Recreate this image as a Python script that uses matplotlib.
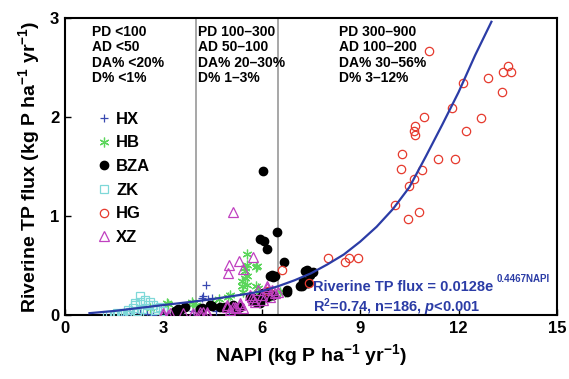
import matplotlib
matplotlib.use("Agg")
import matplotlib.pyplot as plt

plt.rcParams['font.family'] = ['Liberation Sans', 'DejaVu Sans']
plt.rcParams['font.weight'] = 'bold'
plt.rcParams['mathtext.fontset'] = 'custom'
plt.rcParams['mathtext.rm'] = 'Liberation Sans:bold'
plt.rcParams['mathtext.bf'] = 'Liberation Sans:bold'
plt.rcParams['mathtext.it'] = 'Liberation Sans:italic:bold'
plt.rcParams['mathtext.default'] = 'rm'

# group data, NAPI (x) vs riverine TP flux (y)
hx_x = [4.30, 4.17, 4.22, 4.35, 4.47, 1.8, 2.0, 2.3, 2.5, 2.7, 3.1, 3.6, 3.9, 4.6, 5.0]
hx_y = [0.30, 0.17, 0.19, 0.16, 0.17, 0.0, 0.01, 0.02, 0.01, 0.0, 0.02, 0.05, 0.04, 0.04, 0.03]

hb_x = [3.10, 3.15, 3.6, 3.86, 3.89, 4.01, 4.5, 4.98, 5.03, 5.39, 5.39, 5.44, 5.49, 5.49,
        5.49, 5.54, 5.54, 5.54, 5.54, 5.84, 5.86, 5.84, 5.89, 5.95, 6.15, 6.55, 6.71, 2.6, 4.7]
hb_y = [0.12, 0.11, 0.08, 0.13, 0.11, 0.10, 0.12, 0.185, 0.20, 0.34, 0.29, 0.235, 0.47, 0.44,
        0.37, 0.62, 0.505, 0.39, 0.30, 0.48, 0.49, 0.29, 0.27, 0.20, 0.17, 0.235, 0.235, 0.07, 0.16]

bza_x = [3.35, 3.45, 3.51, 3.66, 3.40, 4.12, 4.17, 4.42, 4.47, 4.73, 4.88, 5.13, 5.23, 5.34,
         5.64, 5.69, 5.74, 5.79, 5.84, 5.95, 5.95, 6.05, 6.15, 6.20, 6.30, 6.35, 6.76, 6.76,
         6.25, 6.35, 6.30, 6.40, 6.68, 6.15, 5.95, 6.07, 6.45, 6.03, 7.16, 7.22, 7.27, 7.32,
         7.37, 7.47, 7.42, 7.57, 7.37]
bza_y = [0.04, 0.06, 0.05, 0.08, 0.03, 0.065, 0.07, 0.10, 0.094, 0.084, 0.078, 0.10, 0.07, 0.085,
         0.185, 0.15, 0.17, 0.15, 0.134, 0.17, 0.118, 0.22, 0.185, 0.235, 0.20, 0.20, 0.235, 0.25,
         0.39, 0.38, 0.40, 0.39, 0.53, 0.667, 0.765, 0.75, 0.835, 1.455, 0.29, 0.29, 0.34, 0.44,
         0.45, 0.40, 0.32, 0.43, 0.32]

zk_x = [1.27, 1.37, 1.5, 1.58, 1.7, 1.78, 1.9, 1.93, 2.0, 2.08, 2.13, 2.13, 2.2, 2.29, 2.29,
        2.35, 2.44, 2.5, 2.54, 2.59, 2.69, 2.75, 2.80, 2.90, 3.0, 1.6]
zk_y = [0.0, 0.0, 0.0, 0.0, 0.01, 0.02, 0.0, 0.05, 0.03, 0.07, 0.12, 0.10, 0.04, 0.195, 0.134,
        0.06, 0.15, 0.03, 0.10, 0.134, 0.10, 0.05, 0.07, 0.084, 0.04, 0.02]

hg_x = [11.10, 13.50, 13.36, 13.60, 12.91, 12.12, 13.31, 11.80, 10.95, 12.68, 10.67, 10.63,
        10.67, 12.23, 10.28, 11.38, 11.89, 10.23, 10.89, 10.63, 10.50, 10.06, 10.79, 10.47,
        8.03, 8.67, 8.92, 8.54, 7.45, 6.61, 6.19]
hg_y = [2.66, 2.51, 2.45, 2.45, 2.39, 2.34, 2.25, 2.09, 2.00, 1.99, 1.91, 1.86,
        1.82, 1.86, 1.63, 1.57, 1.57, 1.47, 1.46, 1.37, 1.30, 1.11, 1.04, 0.97,
        0.58, 0.58, 0.58, 0.53, 0.32, 0.45, 0.24]

xz_x = [5.11, 5.01, 5.31, 5.72, 4.98, 5.42, 6.15, 6.30, 6.50, 6.25, 6.05, 5.69, 5.79, 5.34,
        5.18, 4.93, 5.03, 4.32, 4.12, 3.91, 3.61, 3.0, 3.2, 3.0, 3.15, 3.86, 4.12, 4.32,
        6.15, 6.40, 5.74, 5.64, 4.93, 5.13, 5.34, 5.23, 5.44, 4.22, 6.0, 5.9]
xz_y = [1.04, 0.505, 0.54, 0.59, 0.42, 0.46, 0.29, 0.25, 0.235, 0.185, 0.15, 0.185, 0.134, 0.118,
        0.084, 0.084, 0.05, 0.033, 0.033, 0.017, 0.017, 0.017, 0.023, 0.0, 0.0, 0.0, 0.0, 0.01,
        0.27, 0.22, 0.15, 0.2, 0.10, 0.084, 0.10, 0.068, 0.068, 0.033, 0.2, 0.25]

# fitted curve as drawn in the figure
fit_x = [0.75, 1.5, 2.25, 3.0, 3.9, 4.5, 5.0, 5.5, 6.0, 6.5, 7.0, 7.5, 8.0, 8.5,
         9.0, 9.5, 10.0, 10.5, 11.0, 11.5, 12.0, 12.5, 13.0]
fit_y = [0.018, 0.04, 0.07, 0.10, 0.134, 0.16, 0.185, 0.21, 0.24, 0.29, 0.35, 0.42, 0.51, 0.61,
         0.74, 0.89, 1.07, 1.29, 1.60, 1.92, 2.25, 2.62, 2.96]

zone_edges = [4.0, 6.5]
zone_text = ["PD <100\nAD <50\nDA% <20%\nD% <1%",
             "PD 100\u2013300\nAD 50\u2013100\nDA% 20\u201330%\nD% 1\u20133%",
             "PD 300\u2013900\nAD 100\u2013200\nDA% 30\u201356%\nD% 3\u201312%"]
zone_text_x = [0.82, 4.05, 8.35]

blue = '#2b3ca6'

fig = plt.figure(figsize=(5.69, 3.79), dpi=100)
ax = fig.add_axes([0.114, 0.169, 0.865, 0.784])

for xe in zone_edges:
    ax.axvline(xe, color='#a0a0a0', lw=1.3, zorder=1)

ax.plot(hx_x, hx_y, ls='none', marker='+', ms=6, mew=0.9, color='#3848b0', label='HX', zorder=3)
ax.plot(hb_x, hb_y, ls='none', marker=(6, 2, 0), ms=7, mew=0.9, color='#5cd65c', label='HB', zorder=3)
ax.plot(bza_x, bza_y, ls='none', marker='o', ms=6, color='black', label='BZA', zorder=3)
ax.plot(zk_x, zk_y, ls='none', marker='s', ms=5.5, mfc='none', mew=0.9, color='#7ed8d8', label='ZK', zorder=3)
ax.plot(hg_x, hg_y, ls='none', marker='o', ms=6, mfc='none', mew=0.9, color='#e63a2e', label='HG', zorder=3)
ax.plot(xz_x, xz_y, ls='none', marker='^', ms=6.5, mfc='none', mew=0.9, color='#c040c0', label='XZ', zorder=3)

ax.plot(fit_x, fit_y, color=blue, lw=1.6, zorder=4)

for tx, t in zip(zone_text_x, zone_text):
    ax.text(tx, 2.93, t, fontsize=10, fontweight='bold', va='top', ha='left', linespacing=1.13)

ax.text(7.55, 0.28, "Riverine TP flux = 0.0128e", color=blue, fontsize=10.5, fontweight='bold', va='center')
ax.text(13.17, 0.36, "0.4467NAPI", color=blue, fontsize=7, fontweight='bold', va='center')
ax.text(7.55, 0.08, r"R$^{2}$=0.74, n=186, $\mathit{p}$<0.001", color=blue, fontsize=10.5,
        fontweight='bold', va='center')

ax.legend(loc='upper left', bbox_to_anchor=(0.05, 0.712), frameon=False, fontsize=12,
          handlelength=0.8, handletextpad=0.3, labelspacing=0.52, borderpad=0)

ax.set_xlim(0, 15)
ax.set_ylim(0, 3)
ax.set_xticks([0, 3, 6, 9, 12, 15])
ax.set_yticks([0, 1, 2, 3])
ax.tick_params(direction='in', length=4, width=1, labelsize=12, pad=4)
for lab in ax.get_xticklabels() + ax.get_yticklabels():
    lab.set_fontweight('bold')
for sp in ax.spines.values():
    sp.set_linewidth(1.5)

ax.set_xlabel("NAPI (kg P ha$^{-1}$ yr$^{-1}$)", fontsize=14, fontweight='bold', labelpad=5)
ax.set_ylabel("Riverine TP flux (kg P ha$^{-1}$ yr$^{-1}$)", fontsize=14, fontweight='bold', labelpad=6)

fig.savefig("out.png", dpi=100)
